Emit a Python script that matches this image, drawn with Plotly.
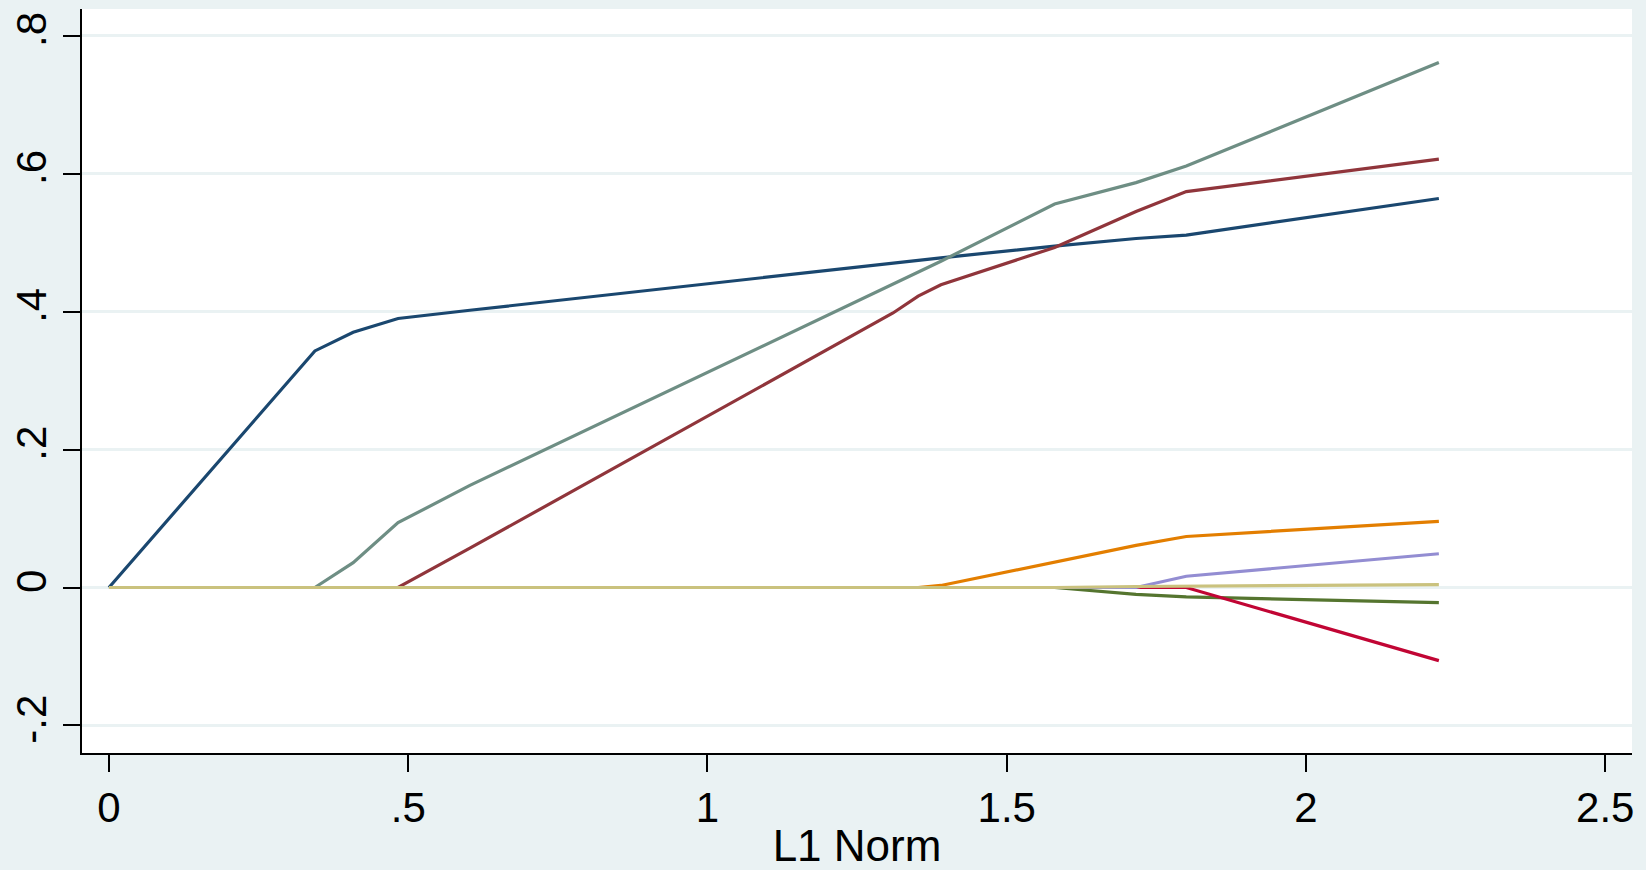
import plotly.graph_objects as go

# Lasso coefficient paths against the L1 norm of the coefficient vector
l1_norm = [0, 0.344, 0.408, 0.483, 0.603, 1.31, 1.352, 1.39, 1.58, 1.716, 1.80, 2.222]

coef_1 = [0, 0.343, 0.370, 0.390, 0.402, 0.471, 0.475, 0.478, 0.495, 0.506, 0.511, 0.564]
coef_2 = [0, 0, 0, 0, 0.057, 0.398, 0.4225, 0.439, 0.493, 0.545, 0.574, 0.621]
coef_3 = [0, 0, 0, 0, 0, 0, 0, 0, 0, -0.010, -0.0135, -0.022]
coef_4 = [0, 0, 0, 0, 0, 0, 0, 0.003, 0.037, 0.061, 0.074, 0.096]
coef_5 = [0, 0, 0.036, 0.094, 0.148, 0.441, 0.458, 0.473, 0.556, 0.587, 0.611, 0.761]
coef_6 = [0, 0, 0, 0, 0, 0, 0, 0, 0, 0, 0, -0.106]
coef_7 = [0, 0, 0, 0, 0, 0, 0, 0, 0, 0, 0.0164, 0.049]
coef_8 = [0, 0, 0, 0, 0, 0, 0, 0, 0, 0.0015, 0.002, 0.0043]

series = [coef_1, coef_2, coef_3, coef_4, coef_5, coef_6, coef_7, coef_8]
colors = ["#1a476f", "#90353b", "#55752f", "#e37e00",
          "#6e8e84", "#c10534", "#938dd2", "#cac27e"]

x_tickvals = [0, 0.5, 1, 1.5, 2, 2.5]
x_ticktext = ["0", ".5", "1", "1.5", "2", "2.5"]
y_tickvals = [-0.2, 0, 0.2, 0.4, 0.6, 0.8]
y_ticktext = ["-.2", "0", ".2", ".4", ".6", ".8"]

bg = "#eaf2f3"
font_family = "Liberation Sans, Arial, Helvetica, sans-serif"

fig = go.Figure()
for ys, c in zip(series, colors):
    fig.add_trace(go.Scatter(
        x=l1_norm, y=ys, mode="lines",
        line=dict(color=c, width=3.2),
        showlegend=False, hoverinfo="skip",
    ))

fig.update_layout(
    width=1646, height=870,
    margin=dict(l=82, r=14, t=9, b=117),
    paper_bgcolor=bg, plot_bgcolor="white",
    font=dict(family=font_family, color="black"),
    showlegend=False,
)

fig.update_xaxes(
    range=[-0.0451, 2.5447], automargin=False,
    tickvals=x_tickvals, ticktext=x_ticktext,
    tickfont=dict(size=42),
    ticks="outside", ticklen=17, tickwidth=2, tickcolor="black",
    showgrid=False, zeroline=False,
    showline=True, linecolor="black", linewidth=2,
    title=dict(text="L1 Norm", font=dict(size=44), standoff=0),
)

fig.update_yaxes(
    range=[-0.2399, 0.8387], automargin=False,
    tickvals=y_tickvals, ticktext=y_ticktext,
    tickfont=dict(size=42), tickangle=-90,
    ticks="outside", ticklen=17, tickwidth=2, tickcolor="black",
    showgrid=True, gridcolor=bg, gridwidth=3,
    zeroline=False,
    showline=True, linecolor="black", linewidth=2,
)

fig.write_html("out.html")
